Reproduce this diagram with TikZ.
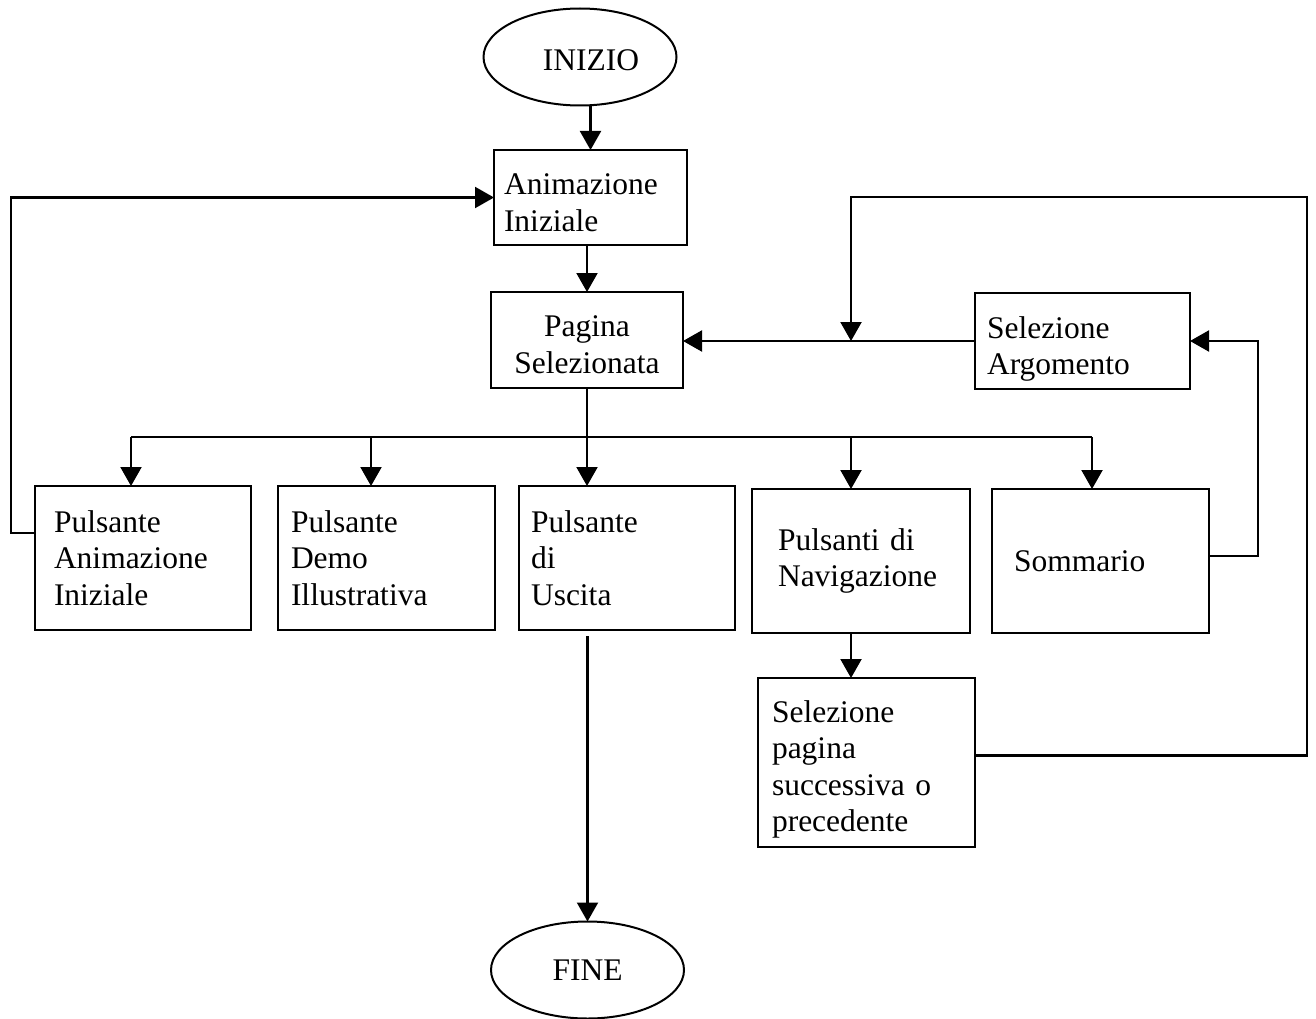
\documentclass[tikz,border=0pt]{standalone}
\usepackage{fontspec}
\setmainfont{Liberation Serif}
\usetikzlibrary{arrows.meta,shapes.geometric}
\newcommand\diagfont{\fontsize{31.5pt}{36.5pt}\selectfont}
\tikzset{
  box/.style={draw, line width=2.1pt, rectangle, anchor=north west, align=left, inner ysep=0pt, outer sep=0pt, font=\diagfont},
  oval/.style={draw, line width=2pt, ellipse, minimum width=193pt, minimum height=97pt, inner sep=0pt, outer sep=0pt, font=\diagfont},
  ln/.style={line width=2.1pt},
  arr/.style={line width=2.1pt, -{Triangle[length=19pt,width=21pt]}},
}
\begin{document}
\begin{tikzpicture}[x=1pt,y=-1pt]
\useasboundingbox (0,0) rectangle (1316,1019);

% nodes
\node[oval] (ini) at (580,57) {\hspace*{22pt}\rule{0pt}{28pt}INIZIO};
\node[box, inner xsep=10pt, text width=173pt, minimum height=95pt] (anim) at (494,150) {\rule{0pt}{31pt}Animazione\\Iniziale};
\node[box, align=center, inner xsep=5pt, text width=182pt, minimum height=96pt] (pag) at (491,292) {\rule{0pt}{30.5pt}Pagina\\Selezionata};
\node[box, inner xsep=12pt, text width=191pt, minimum height=96pt] (sela) at (975,293) {\rule{0pt}{37.5pt}Selezione\\Argomento};
\node[box, inner xsep=19pt, text width=178pt, minimum height=144pt] (p1) at (35,486) {Pulsante\\Animazione\\Iniziale};
\node[box, inner xsep=13pt, text width=191pt, minimum height=144pt] (p2) at (278,486) {Pulsante\\Demo\\Illustrativa};
\node[box, inner xsep=12pt, text width=192pt, minimum height=144pt] (p3) at (519,486) {Pulsante\\di\\Uscita};
\node[box, inner xsep=26pt, text width=166pt, minimum height=144pt] (p4) at (752,489) {Pulsanti di\\Navigazione};
\node[box, inner xsep=22pt, text width=173pt, minimum height=144pt] (som) at (992,489) {Sommario};
\node[box, inner xsep=14pt, text width=189pt, minimum height=169pt] (selp) at (758,678) {\rule{0pt}{35.5pt}Selezione\\pagina\\successiva o\\precedente};
\node[oval] (fine) at (587.5,970) {FINE};

% bus coordinates
\coordinate (b1) at (131,437);
\coordinate (b2) at (371,437);
\coordinate (b3) at (587,437);
\coordinate (b4) at (851,437);
\coordinate (b5) at (1092,437);
\coordinate (j) at (851,341);

% connectors
\draw[arr] (ini.south -| anim.north) -- (anim.north);
\draw[arr] (anim.south -| pag.north) -- (pag.north);
\draw[ln] (pag.south) -- (pag.south |- b1);
\draw[ln] (b1) -- (b5);
\draw[arr] (b1) -- (b1 |- p1.north);
\draw[arr] (b2) -- (b2 |- p2.north);
\draw[arr] (b3) -- (b3 |- p3.north);
\draw[arr] (b4) -- (b4 |- p4.north);
\draw[arr] (b5) -- (b5 |- som.north);

\draw[arr] ([yshift=25pt]p1.west) -- ++(-24,0) |- (anim.west);
\draw[arr] ([yshift=5pt]som.east) -- ++(49,0) |- (sela.east);
\draw[arr] (sela.west) -- (pag.east |- sela.west);
\draw[arr] ([yshift=7pt]selp.east) -- ++(332,0) |- ([yshift=144pt]j) -- (j);
\draw[arr] (p4.south -| j) -- (selp.north -| j);
\draw[arr] ([yshift=-6pt]p3.south -| fine.north) -- (fine.north);
\end{tikzpicture}
\end{document}
